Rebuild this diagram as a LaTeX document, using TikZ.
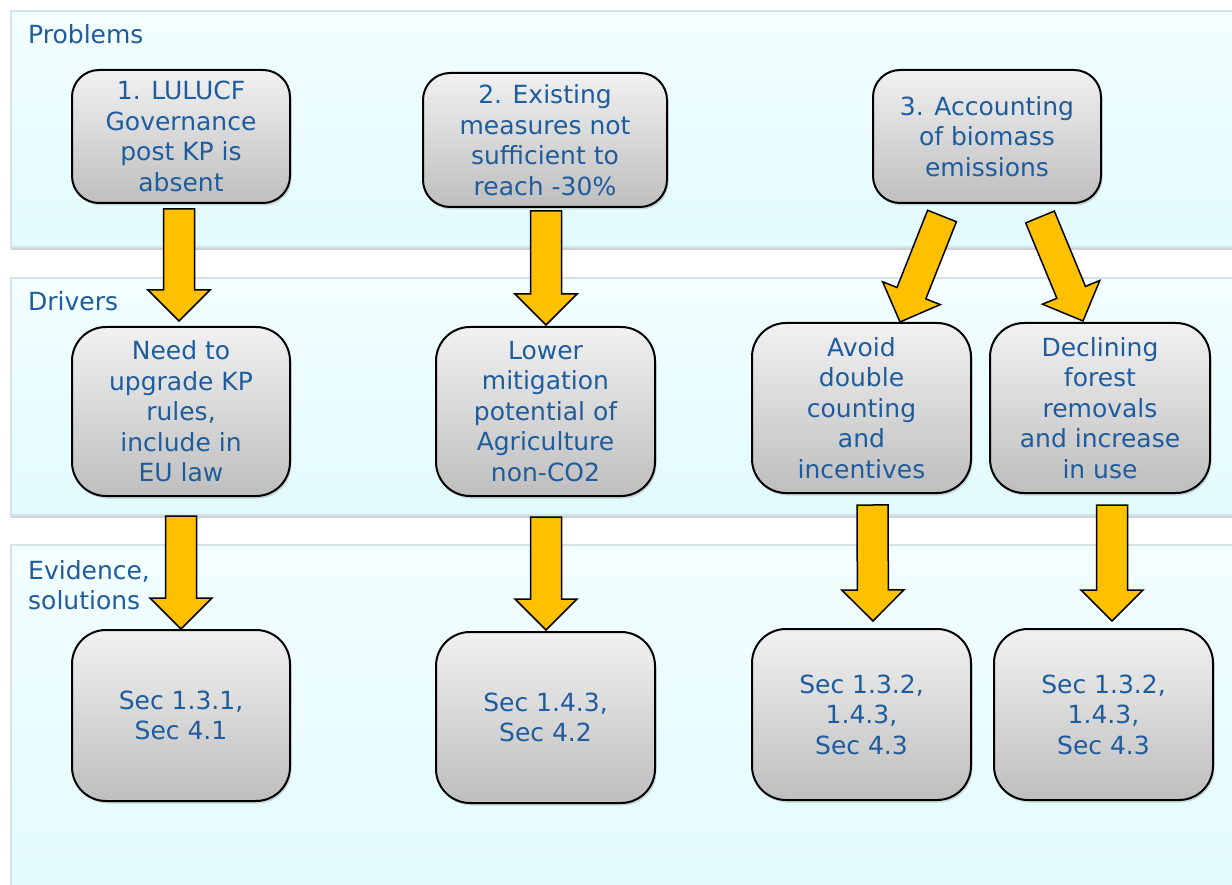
\documentclass[tikz,border=0pt]{standalone}
\usepackage{fontspec}
\setmainfont{DejaVu Sans}
\usetikzlibrary{calc,shadows}
\definecolor{txtblue}{RGB}{30,92,158}
\definecolor{arrowyellow}{RGB}{255,192,0}
\definecolor{bandtop}{RGB}{243,254,255}
\definecolor{bandbot}{RGB}{226,251,254}
\definecolor{bandedge}{RGB}{210,228,232}
\definecolor{boxtop}{RGB}{241,241,241}
\definecolor{boxbot}{RGB}{190,190,190}
\tikzset{
  band/.style={draw=bandedge, line width=1.5pt, top color=bandtop, bottom color=bandbot,
    drop shadow={shadow xshift=0pt, shadow yshift=-3pt, opacity=0.35, fill=gray}},
  box/.style={draw=black, line width=2pt, top color=boxtop, bottom color=boxbot,
    text=txtblue, align=center, font=\fontsize{25}{30.5}\selectfont, inner sep=0pt,
    drop shadow={shadow xshift=1.5pt, shadow yshift=-2.5pt, opacity=0.3, fill=gray}},
  pbox/.style={box, rounded corners=27pt},
  dbox/.style={box, rounded corners=34pt},
  lbl/.style={text=txtblue, font=\fontsize{25}{30}\selectfont, anchor=base west,
    inner sep=0pt, align=left},
  blockarrow/.style={draw=black, line width=1.5pt, fill=arrowyellow, line join=miter},
}
\newcommand\blockarr[2]{%
  \draw[blockarrow] let \p1=($(#2)-(#1)$), \n1={veclen(\x1,\y1)}, \n2={atan2(\y1,\x1)} in
    [shift={(#1)}, rotate=\n2]
    (0pt,-15.5pt) -- ({\n1-31pt},-15.5pt) -- ({\n1-31pt},-31pt) -- ({\n1*1pt},0pt)
    -- ({\n1-31pt},31pt) -- ({\n1-31pt},15.5pt) -- (0pt,15.5pt) -- cycle;}
\begin{document}
\begin{tikzpicture}[x=1pt,y=-1pt]
\useasboundingbox (0,0) rectangle (1232,885);
\clip (0,0) rectangle (1232,885);
\fill[white] (0,0) rectangle (1232,885);
% bands
\path[band] (11,11) rectangle (1250,247);
\path[band] (11,278) rectangle (1250,515);
\path[band] (11,545) rectangle (1250,905);
\node[lbl] (lp) at (28,44) {Problems};
\node[lbl] (ld) at (28,311) {Drivers};
\node[lbl] (le) at (28,609) {Evidence,\\solutions};
% problems
\node[pbox, minimum width=218pt, minimum height=133pt] (P1) at (181,136.5)
  {1. LULUCF\\Governance\\post KP is\\absent};
\node[pbox, minimum width=244pt, minimum height=134pt] (P2) at (545,140)
  {2. Existing\\measures not\\sufficient to\\reach -30\%};
\node[pbox, minimum width=228pt, minimum height=133pt] (P3) at (987,136.5)
  {3. Accounting\\of biomass\\emissions};
% drivers
\node[dbox, minimum width=218pt, minimum height=169pt] (D1) at (181,411.5)
  {Need to\\upgrade KP\\rules,\\include in\\EU law};
\node[dbox, minimum width=219pt, minimum height=169pt] (D2) at (545.5,411.5)
  {Lower\\mitigation\\potential of\\Agriculture\\non-CO2};
\node[dbox, minimum width=219pt, minimum height=170pt] (D3) at (861.5,408)
  {Avoid\\double\\counting\\and\\incentives};
\node[dbox, minimum width=220pt, minimum height=170pt] (D4) at (1100,408)
  {Declining\\forest\\removals\\and increase\\in use};
% evidence
\node[dbox, minimum width=218pt, minimum height=171pt] (E1) at (181,715.5)
  {Sec 1.3.1,\\Sec 4.1};
\node[dbox, minimum width=219pt, minimum height=171pt] (E2) at (545.5,717.5)
  {Sec 1.4.3,\\Sec 4.2};
\node[dbox, minimum width=219pt, minimum height=171pt] (E3) at (861.5,714.5)
  {Sec 1.3.2,\\1.4.3,\\Sec 4.3};
\node[dbox, minimum width=219pt, minimum height=171pt] (E4) at (1103.5,714.5)
  {Sec 1.3.2,\\1.4.3,\\Sec 4.3};
% arrow end points
\coordinate (a1s) at ($(P1.south)+(-2,5)$);
\coordinate (a1e) at ($(D1.north)+(-2,-5)$);
\coordinate (a2s) at ($(P2.south)+(1,3)$);
\coordinate (a2e) at ($(D2.north)+(0.5,-1)$);
\coordinate (a3s) at ($(P3.south)+(-45,12)$);
\coordinate (a3e) at ($(D3.north)+(38.5,0)$);
\coordinate (a4s) at ($(P3.south)+(53,13)$);
\coordinate (a4e) at ($(D4.north)+(-17,-1)$);
\coordinate (a5s) at ($(D1.south)+(0,19)$);
\coordinate (a5e) at ($(E1.north)+(0,0)$);
\coordinate (a6s) at ($(D2.south)+(0.5,20)$);
\coordinate (a6e) at ($(E2.north)+(0.5,-1)$);
\coordinate (a7s) at ($(D3.south)+(11,11)$);
\coordinate (a7e) at ($(E3.north)+(11.5,-7)$);
\coordinate (a8s) at ($(D4.south)+(12,11)$);
\coordinate (a8e) at ($(E4.north)+(8.5,-7)$);
\blockarr{a1s}{a1e}
\blockarr{a2s}{a2e}
\blockarr{a3s}{a3e}
\blockarr{a4s}{a4e}
\blockarr{a5s}{a5e}
\blockarr{a6s}{a6e}
\blockarr{a7s}{a7e}
\blockarr{a8s}{a8e}
\end{tikzpicture}
\end{document}
